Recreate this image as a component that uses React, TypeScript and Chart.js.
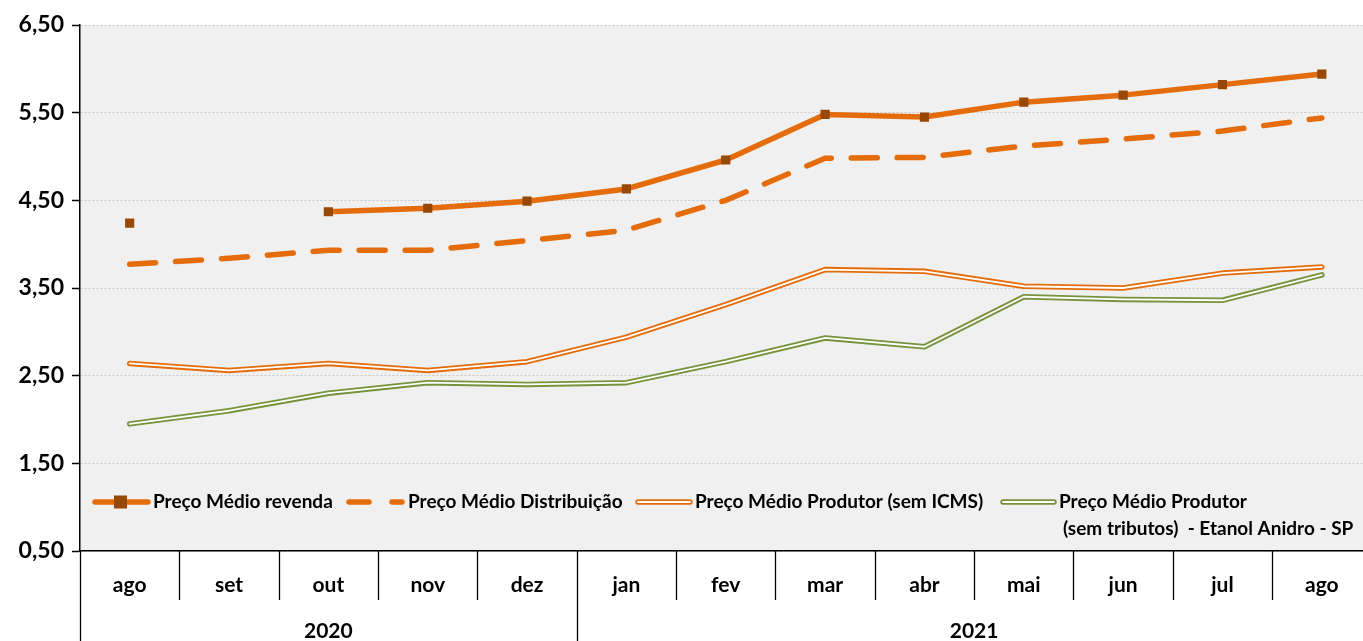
import React, { useEffect, useRef } from "react";
import { Chart, registerables } from "chart.js";
Chart.register(...registerables);

const months = ["ago", "set", "out", "nov", "dez", "jan", "fev", "mar", "abr", "mai", "jun", "jul", "ago"];
const years = ["2020", "2021"];
const yearSpans = [5, 8];
const revenda = [4.24, null, 4.37, 4.41, 4.49, 4.63, 4.96, 5.48, 5.45, 5.62, 5.70, 5.82, 5.94];
const distribuicao = [3.77, 3.84, 3.93, 3.93, 4.04, 4.16, 4.50, 4.98, 4.99, 5.12, 5.20, 5.29, 5.44];
const produtorSemICMS = [2.64, 2.56, 2.64, 2.56, 2.66, 2.94, 3.31, 3.71, 3.69, 3.52, 3.50, 3.67, 3.74];
const produtorSemTributos = [1.95, 2.10, 2.30, 2.42, 2.40, 2.42, 2.66, 2.93, 2.83, 3.40, 3.37, 3.36, 3.65];
const legendLabels = [
  "Preço Médio revenda",
  "Preço Médio Distribuição",
  "Preço Médio Produtor (sem ICMS)",
  "Preço Médio Produtor",
  "(sem tributos)  - Etanol Anidro - SP",
];
const yMin = 0.5;
const yMax = 6.5;
const yStep = 1;

const ORANGE = "#E46C0A";
const BROWN = "#974806";
const GREEN = "#77933C";
const FONT = "Lato";

const bgPlugin = {
  id: "plotBg",
  beforeDraw(chart: any) {
    const { ctx, chartArea } = chart;
    ctx.save();
    ctx.fillStyle = "#F0F0F0";
    ctx.fillRect(chartArea.left, chartArea.top, chartArea.right - chartArea.left, chartArea.bottom - chartArea.top);
    ctx.restore();
  },
};

const axisPlugin = {
  id: "xGroups",
  afterDraw(chart: any) {
    const { ctx, chartArea } = chart;
    const xs = chart.scales.x;
    const step = xs.getPixelForValue(1) - xs.getPixelForValue(0);
    const groupEdges = [0];
    yearSpans.forEach((s, i) => groupEdges.push(groupEdges[i] + s));
    ctx.save();
    ctx.strokeStyle = "#000";
    ctx.lineWidth = 1.3;
    for (let i = 0; i <= months.length; i++) {
      const x = Math.round(xs.getPixelForValue(0) - step / 2 + i * step) + 0.5;
      const full = groupEdges.includes(i);
      ctx.beginPath();
      ctx.moveTo(x, chartArea.bottom);
      ctx.lineTo(x, full ? chart.height : chartArea.bottom + 49);
      ctx.stroke();
    }
    ctx.fillStyle = "#000";
    ctx.font = `bold 21px ${FONT}`;
    ctx.textAlign = "center";
    ctx.textBaseline = "middle";
    years.forEach((yr, i) => {
      const a = xs.getPixelForValue(0) - step / 2 + groupEdges[i] * step;
      const b = xs.getPixelForValue(0) - step / 2 + groupEdges[i + 1] * step;
      ctx.fillText(yr, (a + b) / 2, chartArea.bottom + 80);
    });
    ctx.restore();
  },
};

const legendPlugin = {
  id: "customLegend",
  afterDraw(chart: any) {
    const { ctx, chartArea } = chart;
    const y = chartArea.top + 477;
    const line = (x1: number, x2: number, color: string, w: number, cap: CanvasLineCap) => {
      ctx.beginPath();
      ctx.lineCap = cap;
      ctx.strokeStyle = color;
      ctx.lineWidth = w;
      ctx.moveTo(x1, y);
      ctx.lineTo(x2, y);
      ctx.stroke();
    };
    ctx.save();
    line(95, 148, ORANGE, 5.5, "round");
    ctx.fillStyle = BROWN;
    ctx.fillRect(114, y - 6.5, 13, 13);
    line(349, 369, ORANGE, 5.5, "round");
    line(392, 402, ORANGE, 5.5, "round");
    line(638, 690, ORANGE, 5.5, "round");
    line(638, 690, "#FFFFFF", 1.8, "round");
    line(1003, 1054, GREEN, 5.5, "round");
    line(1003, 1054, "#FFFFFF", 1.8, "round");

    ctx.fillStyle = "#000";
    ctx.font = `bold 19px ${FONT}`;
    ctx.textAlign = "left";
    ctx.textBaseline = "middle";
    ctx.fillText(legendLabels[0], 153, y);
    ctx.fillText(legendLabels[1], 408, y);
    ctx.fillText(legendLabels[2], 695, y);
    ctx.fillText(legendLabels[3], 1059, y);
    ctx.fillText(legendLabels[4], 1063, y + 27);
    ctx.restore();
  },
};

export default function App() {
  const ref = useRef<HTMLCanvasElement | null>(null);
  useEffect(() => {
    if (!ref.current) return;
    const lineBase = { pointRadius: 0, pointHoverRadius: 0, tension: 0, fill: false, spanGaps: false };
    const chart = new Chart(ref.current, {
      type: "line",
      data: {
        labels: months,
        datasets: [
          {
            ...lineBase,
            label: legendLabels[0],
            data: revenda,
            borderColor: ORANGE,
            borderWidth: 5.5,
            borderCapStyle: "round",
            borderJoinStyle: "round",
            pointStyle: "rect",
            pointRadius: 6.5,
            pointBackgroundColor: BROWN,
            pointBorderColor: BROWN,
            pointBorderWidth: 0,
          } as any,
          {
            ...lineBase,
            label: legendLabels[1],
            data: distribuicao,
            borderColor: ORANGE,
            borderWidth: 5.5,
            borderDash: [26, 20],
            borderCapStyle: "round",
          } as any,
          {
            ...lineBase,
            label: "inner1",
            data: produtorSemICMS,
            borderColor: "#FFFFFF",
            borderWidth: 1.8,
            borderCapStyle: "round",
            borderJoinStyle: "round",
          } as any,
          {
            ...lineBase,
            label: legendLabels[2],
            data: produtorSemICMS,
            borderColor: ORANGE,
            borderWidth: 5.5,
            borderCapStyle: "round",
            borderJoinStyle: "round",
          } as any,
          {
            ...lineBase,
            label: "inner2",
            data: produtorSemTributos,
            borderColor: "#FFFFFF",
            borderWidth: 1.8,
            borderCapStyle: "round",
            borderJoinStyle: "round",
          } as any,
          {
            ...lineBase,
            label: legendLabels[3],
            data: produtorSemTributos,
            borderColor: GREEN,
            borderWidth: 5.5,
            borderCapStyle: "round",
            borderJoinStyle: "round",
          } as any,
        ],
      },
      options: {
        responsive: false,
        animation: false,
        events: [],
        layout: { padding: { top: 25, right: 0, left: 0, bottom: 0 } },
        plugins: { legend: { display: false }, tooltip: { enabled: false }, title: { display: false } },
        scales: {
          x: {
            offset: true,
            grid: { display: false },
            border: { display: true, color: "#000", width: 1.5 },
            ticks: {
              color: "#000",
              padding: 14,
              maxRotation: 0,
              autoSkip: false,
              font: { family: FONT, size: 21, weight: "bold" },
            },
            afterFit(scale: any) {
              scale.height = 90;
            },
          },
          y: {
            min: yMin,
            max: yMax,
            grid: {
              color: "#C8C8C8",
              lineWidth: 1,
              tickColor: "#000",
              tickLength: 8,
              tickWidth: 1.5,
            },
            border: { display: true, color: "#000", width: 1.5, dash: [2, 2] },
            ticks: {
              stepSize: yStep,
              color: "#000",
              padding: 8,
              font: { family: FONT, size: 23, weight: "bold" },
              callback: (v: any) => Number(v).toFixed(2).replace(".", ","),
            },
            afterFit(scale: any) {
              scale.width = 80;
            },
          },
        },
      },
      plugins: [bgPlugin, axisPlugin, legendPlugin],
    });
    return () => chart.destroy();
  }, []);
  return (
    <div style={{ position: "fixed", left: 0, top: 0, width: 1363, height: 641, overflow: "hidden", background: "#fff" }}>
      <canvas ref={ref} width={1378} height={641} style={{ display: "block" }} />
    </div>
  );
}
